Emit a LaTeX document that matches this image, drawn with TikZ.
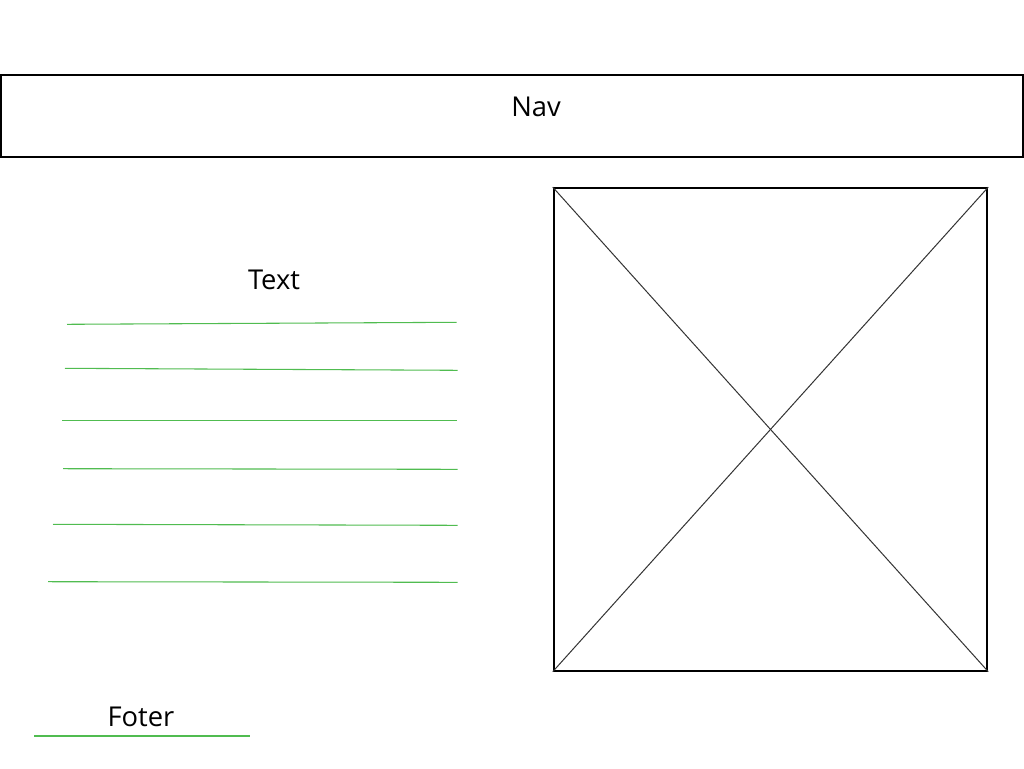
\documentclass[tikz,border=0pt]{standalone}
\usepackage{fontspec}
\setmainfont{Open Sans}
\definecolor{linegreen}{RGB}{80,188,80}
\tikzset{
  frame/.style={draw=black, line width=1.5pt, inner sep=0pt},
  cross/.style={draw=black!80, line width=0.75pt},
  rule/.style={draw=linegreen, line width=0.8pt},
  label/.style={font=\fontsize{20.5pt}{24pt}\selectfont, anchor=base, inner sep=0pt}
}
\begin{document}
\begin{tikzpicture}[x=0.75pt, y=-0.75pt]
\useasboundingbox[fill=white] (0,0) rectangle (1024,768);
% nav bar
\node[frame, minimum width=1021.5*0.75pt, minimum height=82*0.75pt] (nav) at (512,115.7) {};
\node[label] (navtext) at (536,116) {Nav};
% image placeholder
\node[frame, minimum width=433.5*0.75pt, minimum height=482.5*0.75pt] (img) at (770.5,429.4) {};
\draw[cross] (img.north west) -- (img.south east);
\draw[cross] (img.north east) -- (img.south west);
% text block
\node[label] (text) at (274,289) {Text};
\coordinate (a1) at (67,324.3);   \coordinate (b1) at (456.7,322.3);
\coordinate (a2) at (65,368.3);   \coordinate (b2) at (457.7,370.3);
\coordinate (a3) at (62,420.3);   \coordinate (b3) at (456.7,420.3);
\coordinate (a4) at (63,468.7);   \coordinate (b4) at (457.7,469.3);
\coordinate (a5) at (53,524.3);   \coordinate (b5) at (457.7,525.3);
\coordinate (a6) at (48,581.7);   \coordinate (b6) at (457.7,582.3);
\foreach \i in {1,...,6} { \draw[rule] (a\i) -- (b\i); }
% footer
\node[label] (foot) at (141,726) {Foter};
\coordinate (fa) at (34,736);
\coordinate (fb) at (250,736);
\draw[rule] (fa) -- (fb);
\end{tikzpicture}
\end{document}
